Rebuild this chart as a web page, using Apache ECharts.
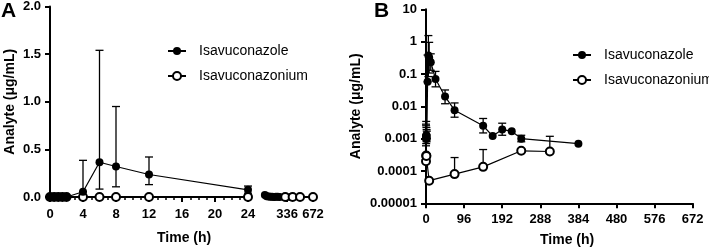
<!DOCTYPE html>
<html>
<head>
<meta charset="utf-8">
<script src="https://cdn.jsdelivr.net/npm/echarts@6/dist/echarts.min.js"></script>
<style>
  html, body { margin: 0; padding: 0; background: #fff; }
  #chart { width: 709px; height: 251px; }
</style>
</head>
<body>
<div id="chart"></div>
<script>
// ---- panel A, early segment (0-24 h), linear scale ----
const timesAzoleA = [0, 0.25, 0.5, 1, 1.5, 2, 4, 6, 8, 12, 24];
const azoleA = [0, 0, 0, 0, 0, 0, 0.055, 0.365, 0.32, 0.236, 0.075];
const azoleLoA = [null, null, null, null, null, null, null, 0.083, 0.107, 0.13, 0.04];
const azoleHiA = [null, null, null, null, null, null, 0.385, 1.54, 0.95, 0.42, 0.115];
const timesAzoniumA = [0, 0.5, 1, 1.5, 2, 4, 6, 8, 12, 24];
const azoniumA = [0, 0, 0, 0, 0, 0, 0, 0, 0, 0];

// ---- panel A, late segment (after the axis break) ----
const lateTimesAzoleA = [48, 72, 96, 120, 144, 168, 192, 216, 240, 384];
const lateAzoleA = [0.02, 0.0076, 0.004, 0.003, 0.0025, 0.0012, 0.0019, 0.0017, 0.001, 0.0007];
const lateTimesAzoniumA = [312, 408, 504, 672];
const lateAzoniumA = [0, 0, 0, 0];
const lateTicksA = [336, 672];

// ---- panel B, log scale ----
const timesAzoleB = [0, 0.25, 0.5, 1, 1.5, 2, 4, 6, 8, 12, 24, 48, 72, 144, 168, 192, 216, 240, 384];
const azoleB = [0.001, 0.0012, 0.0011, 0.0013, 0.0012, 0.001, 0.057, 0.37, 0.32, 0.23, 0.07,
  0.02, 0.0076, 0.0025, 0.0012, 0.0019, 0.0017, 0.001, 0.0007];
const azoleLoB = [0.0006, null, 0.0007, null, 0.0008, null, null, 0.083, 0.107, 0.13, 0.04,
  0.012, 0.0046, 0.0015, null, 0.00127, null, 0.0008, null];
const azoleHiB = [0.0028, 0.0025, 0.0034, 0.0022, 0.0019, 0.0017, 0.385, 1.54, 0.95, 0.42, 0.12,
  0.032, 0.0127, 0.0042, null, 0.003, null, 0.00127, null];
const timesAzoniumB = [0, 0.5, 1, 8, 72, 144, 240, 312];
const azoniumB = [0.0002, 0.0003, 0.00029, 0.00005, 0.00008, 0.000134, 0.00042, 0.0004];
const azoniumHiB = [null, null, null, null, 0.00026, 0.00046, null, 0.00118];
const yLabelsB = ['0.00001', '0.0001', '0.001', '0.01', '0.1', '1', '10'];

const FONT = 'Liberation Sans, Arial, sans-serif';
const AZOLE = 'Isavuconazole';
const AZONIUM = 'Isavuconazonium';

const pairs = (xs, ys) => xs.map((x, i) => [x, ys[i]]);
const errRows = (xs, ys, lo, hi) =>
  xs.map((x, i) => {
    if (lo[i] == null && (hi == null || hi[i] == null)) return null;
    return [x, lo[i] == null ? ys[i] : lo[i], hi && hi[i] != null ? hi[i] : ys[i]];
  }).filter(Boolean);

function errorBars(params, api) {
  const x = api.value(0);
  const p1 = api.coord([x, api.value(1)]);
  const p2 = api.coord([x, api.value(2)]);
  const style = { stroke: '#000', lineWidth: 1.3 };
  const cap = 4;
  const kids = [{ type: 'line', shape: { x1: p1[0], y1: p1[1], x2: p2[0], y2: p2[1] }, style }];
  if (Math.abs(p1[1] - p2[1]) > 0.5) {
    [p1, p2].forEach(p => kids.push({
      type: 'line', shape: { x1: p[0] - cap, y1: p[1], x2: p[0] + cap, y2: p[1] }, style
    }));
  }
  return { type: 'group', children: kids };
}

const axisLine = { lineStyle: { color: '#000', width: 2 } };
const axisTick = { length: 5, lineStyle: { color: '#000', width: 2 } };
const tickLabel = { color: '#000', fontFamily: FONT, fontWeight: 'bold', fontSize: 13 };
const axisName = { color: '#000', fontFamily: FONT, fontWeight: 'bold', fontSize: 14 };
const legendText = { color: '#000', fontSize: 14, fontFamily: FONT, padding: [0, 0, 0, 8] };

const filled = { symbol: 'circle', symbolSize: 8, itemStyle: { color: '#000' } };
const open = { symbol: 'emptyCircle', symbolSize: 8, itemStyle: { color: '#000', borderWidth: 1.8 } };
const lineStyle = { color: '#000', width: 1.2 };

const chart = echarts.init(document.getElementById('chart'), null, { renderer: 'canvas' });

chart.setOption({
  animation: false,
  backgroundColor: '#fff',
  textStyle: { fontFamily: FONT },
  grid: [
    { left: 50, top: 5, width: 198, height: 192 },
    { left: 263, top: 5, width: 50, height: 192 },
    { left: 426, top: 9.3, width: 266.7, height: 194 }
  ],
  xAxis: [
    {
      gridIndex: 0, type: 'value', min: 0, max: 24, interval: 4,
      axisLine, axisTick, axisLabel: { ...tickLabel, margin: 11 },
      minorTick: { show: true, splitNumber: 4, length: 3, lineStyle: { color: '#000', width: 1.5 } },
      splitLine: { show: false }
    },
    {
      gridIndex: 1, type: 'value', min: 24, max: 672,
      axisLine,
      axisTick: { ...axisTick, customValues: lateTicksA },
      axisLabel: { ...tickLabel, margin: 11, customValues: lateTicksA },
      splitLine: { show: false }
    },
    {
      gridIndex: 2, type: 'value', min: 0, max: 672, interval: 96,
      axisLine, axisTick, axisLabel: { ...tickLabel, margin: 10 },
      splitLine: { show: false }
    }
  ],
  yAxis: [
    {
      gridIndex: 0, type: 'value', min: 0, max: 2, interval: 0.5,
      axisLine: { show: true, ...axisLine }, axisTick: { show: true, ...axisTick },
      axisLabel: { ...tickLabel, margin: 9, formatter: v => v.toFixed(1) },
      splitLine: { show: false },
      name: 'Analyte (\u03bcg/mL)', nameLocation: 'middle', nameGap: 33, nameTextStyle: axisName
    },
    {
      gridIndex: 1, type: 'value', min: 0, max: 2, show: false
    },
    {
      gridIndex: 2, type: 'log', logBase: 10, min: 0.00001, max: 10,
      axisLine: { show: true, ...axisLine }, axisTick: { show: true, ...axisTick },
      axisLabel: {
        ...tickLabel, margin: 9,
        formatter: v => yLabelsB[Math.round(Math.log10(v)) + 5]
      },
      splitLine: { show: false }, minorTick: { show: false },
      name: 'Analyte (\u03bcg/mL)', nameLocation: 'middle', nameGap: 63, nameTextStyle: axisName
    }
  ],
  legend: [
    {
      data: [AZOLE, AZONIUM], orient: 'vertical', left: 162, top: 39,
      itemWidth: 18, itemHeight: 10, itemGap: 11, textStyle: legendText
    },
    {
      data: [AZOLE, AZONIUM], orient: 'vertical', left: 567, top: 43,
      itemWidth: 18, itemHeight: 10, itemGap: 11, textStyle: legendText
    }
  ],
  graphic: [
    { type: 'text', left: 1, top: 1, style: { text: 'A', font: 'bold 21px ' + FONT, fill: '#000' } },
    { type: 'text', left: 374, top: 1, style: { text: 'B', font: 'bold 21px ' + FONT, fill: '#000' } },
    { type: 'text', left: 157, top: 231, style: { text: 'Time (h)', font: 'bold 14px ' + FONT, fill: '#000' } },
    { type: 'text', left: 540, top: 233, style: { text: 'Time (h)', font: 'bold 14px ' + FONT, fill: '#000' } }
  ],
  series: [
    // panel A
    { type: 'custom', xAxisIndex: 0, yAxisIndex: 0, z: 1, renderItem: errorBars,
      data: errRows(timesAzoleA, azoleA, azoleLoA, azoleHiA) },
    { name: AZONIUM, type: 'line', xAxisIndex: 0, yAxisIndex: 0, ...open, lineStyle,
      data: pairs(timesAzoniumA, azoniumA) },
    { name: AZOLE, type: 'line', xAxisIndex: 0, yAxisIndex: 0, ...filled, lineStyle,
      data: pairs(timesAzoleA, azoleA) },
    { name: AZOLE, type: 'line', xAxisIndex: 1, yAxisIndex: 1, ...filled, lineStyle,
      data: pairs(lateTimesAzoleA, lateAzoleA) },
    { name: AZONIUM, type: 'line', xAxisIndex: 1, yAxisIndex: 1, ...open, lineStyle,
      data: pairs(lateTimesAzoniumA, lateAzoniumA) },
    // panel B
    { type: 'custom', xAxisIndex: 2, yAxisIndex: 2, z: 1, renderItem: errorBars,
      data: errRows(timesAzoleB, azoleB, azoleLoB, azoleHiB) },
    { type: 'custom', xAxisIndex: 2, yAxisIndex: 2, z: 1, renderItem: errorBars,
      data: errRows(timesAzoniumB, azoniumB, azoniumB.map(() => null), azoniumHiB) },
    { name: AZOLE, type: 'line', xAxisIndex: 2, yAxisIndex: 2, ...filled, lineStyle,
      data: pairs(timesAzoleB, azoleB) },
    { name: AZONIUM, type: 'line', xAxisIndex: 2, yAxisIndex: 2, ...open, lineStyle,
      data: pairs(timesAzoniumB, azoniumB) }
  ]
});
</script>
</body>
</html>
